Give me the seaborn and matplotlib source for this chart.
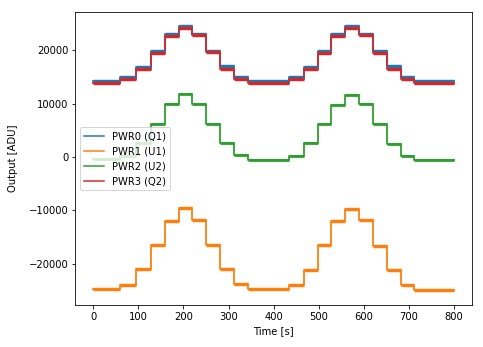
import matplotlib
matplotlib.use("Agg")
import matplotlib.pyplot as plt
import seaborn as sns
import pandas as pd

# Segment boundaries (s)
boundaries = [0, 59, 94, 128, 159, 189, 219, 250, 281, 313, 344,
              435, 467, 498, 528, 559, 590, 621, 652, 682, 712, 800]

# Level of each segment (ADU), one value per segment
pwr0_q1 = [14250, 14950, 16850, 19850, 23000, 24550, 23100, 19850, 16950, 14950,
           14250, 14950, 16850, 19850, 23000, 24550, 23100, 19850, 16950, 14950, 14250]
pwr1_u1 = [-24750, -23900, -21050, -16500, -12000, -9600, -11750, -16450, -21000, -23850,
           -24750, -23950, -21100, -16450, -12050, -9650, -11800, -16600, -21200, -24000, -24850]
pwr2_u2 = [-450, 150, 2650, 6250, 9850, 11700, 10000, 6250, 2650, 400,
           -500, 200, 2550, 6150, 9750, 11600, 9900, 6100, 2400, 200, -600]
pwr3_q2 = [13850, 14550, 16400, 19450, 22600, 24150, 22800, 19550, 16550, 14550,
           13850, 14550, 16400, 19450, 22600, 24150, 22750, 19500, 16500, 14550, 13850]

series_names = ["PWR0 (Q1)", "PWR1 (U1)", "PWR2 (U2)", "PWR3 (Q2)"]
series_vals = [pwr0_q1, pwr1_u1, pwr2_u2, pwr3_q2]

rows = []
for name, vals in zip(series_names, series_vals):
    levels = list(vals) + [vals[-1]]
    for t, v in zip(boundaries, levels):
        rows.append({"Time": t, "Output": v, "Series": name})
df = pd.DataFrame(rows)

DPI = 72
fig = plt.figure(figsize=(483 / DPI, 347 / DPI), dpi=DPI)
ax = fig.add_axes([0.156, 0.121, 0.821, 0.844])

palette = dict(zip(series_names, sns.color_palette("tab10", 4)))
sns.lineplot(data=df, x="Time", y="Output", hue="Series", palette=palette,
             estimator=None, drawstyle="steps-post", linewidth=1.8, ax=ax)

# thicker plateaus (noise band appearance)
for name, vals, lw in zip(series_names, series_vals, [3.4, 3.4, 2.8, 3.4]):
    ax.hlines(vals, boundaries[:-1], boundaries[1:], colors=[palette[name]],
              linewidth=lw)

handles, labels = ax.get_legend_handles_labels()
leg = ax.legend(handles, labels, loc="center left")
for h in leg.get_lines():
    h.set_linewidth(1.5)

ax.set_xlim(-40, 840)
ax.set_ylim(-27700, 27100)
ax.set_xticks(range(0, 801, 100))
ax.set_xlabel("Time [s]")
ax.set_ylabel("Output [ADU]")
ax.yaxis.set_label_coords(-0.145, 0.5)

fig.savefig("out.png", dpi=DPI)
